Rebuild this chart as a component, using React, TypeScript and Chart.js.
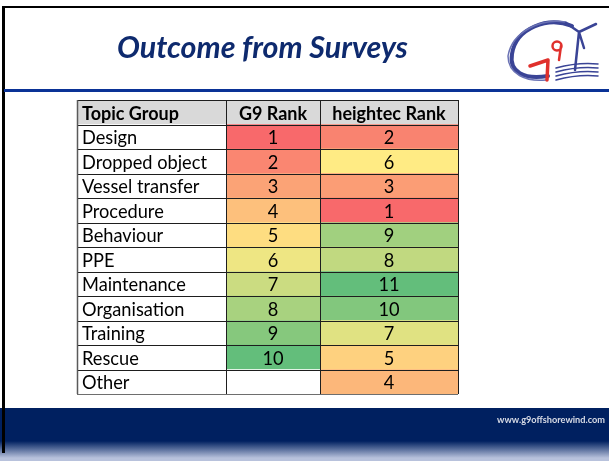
import React, { useEffect, useRef } from "react";
import { Chart, registerables } from "chart.js";

Chart.register(...registerables);

// ---- data ----
const title = "Outcome from Surveys";
const footerUrl = "www.g9offshorewind.com";
const headers = ["Topic Group", "G9 Rank", "heightec Rank"];
const topics = [
  "Design",
  "Dropped object",
  "Vessel transfer",
  "Procedure",
  "Behaviour",
  "PPE",
  "Maintenance",
  "Organisation",
  "Training",
  "Rescue",
  "Other",
];
const g9Rank: (number | null)[] = [1, 2, 3, 4, 5, 6, 7, 8, 9, 10, null];
const heightecRank: (number | null)[] = [2, 6, 3, 1, 9, 8, 11, 10, 7, 5, 4];

// ---- layout ----
const W = 609;
const H = 461;
const TABLE = { left: 77, top: 100, right: 458, bottom: 394 };
const COL_EDGES = [0, 149, 243, 381];
const FONT = "Lato, 'Open Sans', sans-serif";

const RED = [248, 105, 107];
const YEL = [255, 235, 132];
const GRN = [99, 190, 123];

function scaleColor(v: number | null, vals: (number | null)[]) {
  if (v == null) return "#ffffff";
  const nums = vals.filter((x) => x != null) as number[];
  const min = Math.min(...nums);
  const max = Math.max(...nums);
  const mid = (min + max) / 2;
  let a: number[], b: number[], t: number;
  if (v <= mid) {
    a = RED; b = YEL; t = (v - min) / (mid - min);
  } else {
    a = YEL; b = GRN; t = (v - mid) / (max - mid);
  }
  const c = a.map((x, i) => Math.round(x + (b[i] - x) * t));
  return `rgb(${c[0]},${c[1]},${c[2]})`;
}

function fitSize(ctx: CanvasRenderingContext2D, text: string, width: number, style: string) {
  ctx.font = `${style} 20px ${FONT}`;
  const w = ctx.measureText(text).width;
  return (20 * width) / w;
}

export default function App() {
  const ref = useRef<HTMLCanvasElement>(null);

  useEffect(() => {
    document.body.style.margin = "0";
    const canvas = ref.current!;
    const rowLabels = [headers[0], ...topics];
    const cols = [null, g9Rank, heightecRank];

    const fill = (c: number, i: number) => {
      if (i === 0) return "#d9d9d9";
      if (c === 0) return "#ffffff";
      const arr = cols[c] as (number | null)[];
      return scaleColor(arr[i - 1], arr);
    };

    const datasets = [0, 1, 2].map((c) => ({
      label: headers[c],
      data: rowLabels.map(() => [COL_EDGES[c], COL_EDGES[c + 1]] as [number, number]),
      backgroundColor: rowLabels.map((_, i) => fill(c, i)),
      borderWidth: 0,
      barPercentage: 1,
      categoryPercentage: 1,
      grouped: false,
    }));

    const slidePlugin = {
      id: "slide",
      beforeDraw(chart: any) {
        const ctx: CanvasRenderingContext2D = chart.ctx;
        ctx.save();
        ctx.fillStyle = "#ffffff";
        ctx.fillRect(0, 0, W, H);

        // footer
        ctx.fillStyle = "#002060";
        ctx.fillRect(0, 408, W, H - 408);
        const g = ctx.createLinearGradient(0, 441, 0, 458);
        g.addColorStop(0, "#002060");
        g.addColorStop(1, "#b8c2dc");
        ctx.fillStyle = g;
        ctx.fillRect(0, 441, W, H - 441);

        // border
        ctx.fillStyle = "#000000";
        ctx.fillRect(2, 6, W - 2, 2);
        ctx.fillRect(2, 6, 3, 447);

        // blue rule
        ctx.fillStyle = "#0a3296";
        ctx.fillRect(4, 89, W - 4, 3);

        // title
        const ts = fitSize(ctx, title, 291, "italic bold");
        ctx.font = `italic bold ${ts}px ${FONT}`;
        ctx.fillStyle = "#0e2a6e";
        ctx.textBaseline = "alphabetic";
        ctx.textAlign = "left";
        ctx.fillText(title, 117, 58);

        // footer url
        const fs = fitSize(ctx, footerUrl, 108, "bold");
        ctx.font = `bold ${fs}px ${FONT}`;
        ctx.fillStyle = "#d8dce6";
        ctx.textAlign = "right";
        ctx.textBaseline = "middle";
        ctx.fillText(footerUrl, 605, 420);

        // logo (decorative strokes)
        ctx.lineCap = "round";
        ctx.lineJoin = "round";
        ctx.strokeStyle = "#3a4496";
        ctx.lineWidth = 4;
        ctx.beginPath();
        ctx.moveTo(572, 26);
        ctx.bezierCurveTo(548, 16, 516, 28, 512, 54);
        ctx.bezierCurveTo(509, 72, 524, 80, 548, 76);
        ctx.stroke();
        ctx.strokeStyle = "#6a72b4";
        ctx.lineWidth = 1.5;
        ctx.beginPath();
        ctx.moveTo(566, 22);
        ctx.bezierCurveTo(540, 18, 512, 32, 508, 56);
        ctx.bezierCurveTo(508, 74, 526, 82, 546, 80);
        ctx.stroke();
        // turbine
        ctx.strokeStyle = "#3a4496";
        ctx.lineWidth = 2.5;
        ctx.beginPath();
        ctx.moveTo(579, 32);
        ctx.lineTo(575, 70);
        ctx.moveTo(579, 32);
        ctx.lineTo(566, 23);
        ctx.moveTo(579, 32);
        ctx.lineTo(596, 24);
        ctx.moveTo(579, 32);
        ctx.lineTo(584, 48);
        ctx.stroke();
        ctx.lineWidth = 1.5;
        for (let k = 0; k < 4; k++) {
          ctx.beginPath();
          ctx.moveTo(556, 68 + k * 4);
          ctx.quadraticCurveTo(578, 62 + k * 4, 598, 64 + k * 4);
          ctx.stroke();
        }
        // red mark
        ctx.strokeStyle = "#e0302c";
        ctx.lineWidth = 3.5;
        ctx.beginPath();
        ctx.moveTo(530, 66);
        ctx.lineTo(548, 60);
        ctx.lineTo(547, 80);
        ctx.stroke();
        ctx.lineWidth = 2.5;
        ctx.beginPath();
        ctx.arc(557, 46, 4.5, 0, Math.PI * 2);
        ctx.moveTo(561, 46);
        ctx.lineTo(559, 60);
        ctx.stroke();
        ctx.restore();
      },
      afterDatasetsDraw(chart: any) {
        const ctx: CanvasRenderingContext2D = chart.ctx;
        const xs = chart.scales.x;
        const ys = chart.scales.y;
        const rowH = ys.getPixelForValue(1) - ys.getPixelForValue(0);
        const y0 = ys.getPixelForValue(0) - rowH / 2;
        const xEdges = COL_EDGES.map((e) => xs.getPixelForValue(e));
        ctx.save();

        // grid lines
        ctx.lineWidth = 1;
        for (let r = 0; r <= rowLabels.length; r++) {
          const y = Math.round(y0 + r * rowH) + 0.5;
          ctx.beginPath();
          ctx.moveTo(xEdges[0], y);
          ctx.lineTo(xEdges[3], y);
          ctx.strokeStyle = r === rowLabels.length ? "#6e6e6e" : "#1e1e1e";
          ctx.stroke();
        }
        xEdges.forEach((x, k) => {
          const px = Math.round(x) + 0.5;
          ctx.beginPath();
          ctx.moveTo(px, y0);
          ctx.lineTo(px, y0 + rowLabels.length * rowH);
          ctx.strokeStyle = k === 0 ? "#5a5a5a" : "#1e1e1e";
          ctx.lineWidth = k === 0 ? 1.5 : 1;
          ctx.stroke();
        });

        // text
        const bodySize = fitSize(ctx, "Dropped object", 125, "normal");
        const headSize = fitSize(ctx, "Topic Group", 97, "bold");
        ctx.fillStyle = "#000000";
        ctx.textBaseline = "alphabetic";
        rowLabels.forEach((lab, i) => {
          const cy = ys.getPixelForValue(i);
          const isHead = i === 0;
          const size = isHead ? headSize : bodySize;
          ctx.font = `${isHead ? "bold" : "normal"} ${size}px ${FONT}`;
          const cap = ctx.measureText("H").actualBoundingBoxAscent;
          const base = cy + cap / 2 + 0.5;
          ctx.textAlign = "left";
          ctx.fillText(lab, xEdges[0] + 5, base);
          const vals = isHead
            ? [headers[1], headers[2]]
            : [g9Rank[i - 1], heightecRank[i - 1]];
          vals.forEach((v, k) => {
            if (v == null) return;
            ctx.textAlign = "center";
            ctx.fillText(String(v), (xEdges[k + 1] + xEdges[k + 2]) / 2, base);
          });
        });
        ctx.restore();
      },
    };

    const chart = new Chart(canvas, {
      type: "bar",
      data: { labels: rowLabels, datasets: datasets as any },
      options: {
        responsive: false,
        devicePixelRatio: 1,
        animation: false,
        indexAxis: "y",
        layout: {
          padding: {
            left: TABLE.left,
            top: TABLE.top,
            right: W - TABLE.right,
            bottom: H - TABLE.bottom,
          },
        },
        scales: {
          x: { type: "linear", min: COL_EDGES[0], max: COL_EDGES[3], display: false },
          y: { type: "category", display: false },
        },
        plugins: {
          legend: { display: false },
          tooltip: { enabled: false },
        },
      },
      plugins: [slidePlugin],
    });
    return () => chart.destroy();
  }, []);

  return (
    <canvas
      ref={ref}
      width={W}
      height={H}
      style={{ position: "fixed", left: 0, top: 0, width: W, height: H, display: "block" }}
    />
  );
}
